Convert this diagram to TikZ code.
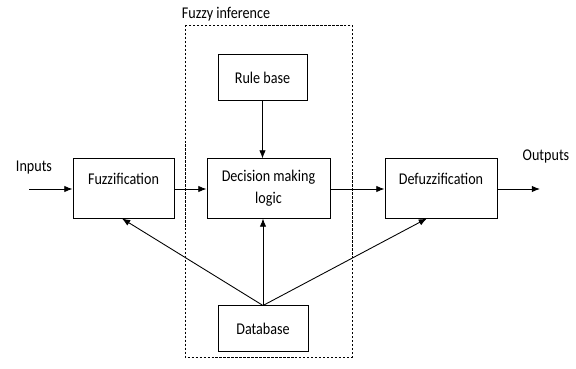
\documentclass[tikz,border=0pt]{standalone}
\usepackage{fontspec}
\setmainfont{Carlito}[FakeStretch=0.86]
\usetikzlibrary{arrows.meta,calc}
\tikzset{
flowMe/.style={-{Latex[length=7pt,width=5.5pt]}, line width=0.75pt}
}

\begin{document}
\begin{tikzpicture}[x=0.03cm,y=-0.03cm]
		\tikzset{block/.style = {shape=rectangle, draw, line width=0.85pt, align=center, font=\fontsize{14}{19}\selectfont}}
		\tikzset{toptext/.style = {text height=0.3cm, text depth=0.54cm}}
		\tikzset{word/.style = {font=\fontsize{14}{16}\selectfont, inner sep=0pt}}
		\useasboundingbox (0,0) rectangle (576,369);

		% fuzzy inference frame
		\draw[line width=0.6pt, dash pattern=on 2pt off 1.4pt] (185,25) rectangle (352,357);
		\node[word] (F_lbl) at (226,14) {Fuzzy inference};

		\node[block, toptext, minimum width=3.03cm, minimum height=1.77cm] (B_fuz) at (123.5,188.5) {Fuzzification};
		\node[block, minimum width=3.69cm, minimum height=1.77cm] (B_dml) at (268.5,188.5) {Decision making\\logic};
		\node[block, toptext, minimum width=3.36cm, minimum height=1.77cm] (B_def) at (441,188.5) {Defuzzification};
		\node[block, minimum width=2.67cm, minimum height=1.35cm] (B_rule) at (262.5,77.5) {Rule base};
		\node[block, minimum width=2.7cm, minimum height=1.35cm] (B_db) at (263,328.5) {Database};

		\node[word] (T_in) at (34,168) {Inputs};
		\node[word] (T_out) at (546,157) {Outputs};
		\coordinate (C_in) at (29,189);
		\coordinate (C_out) at (540,189);

		\draw[flowMe] (C_in) to (C_in -| B_fuz.west);
		\draw[flowMe] (C_in -| B_fuz.east) to (C_in -| B_dml.west);
		\draw[flowMe] (C_in -| B_dml.east) to (C_in -| B_def.west);
		\draw[flowMe] (C_in -| B_def.east) to (C_out);
		\draw[flowMe] (B_rule.south) to (B_rule.south |- B_dml.north);
		\draw[flowMe] (B_db.north) to (B_db.north |- B_dml.south);
		\draw[flowMe] (B_db.north) to ($(B_fuz.south west)!0.485!(B_fuz.south east)$);
		\draw[flowMe] (B_db.north) to ($(B_def.south west)!0.375!(B_def.south east)$);


	\end{tikzpicture}
\end{document}
